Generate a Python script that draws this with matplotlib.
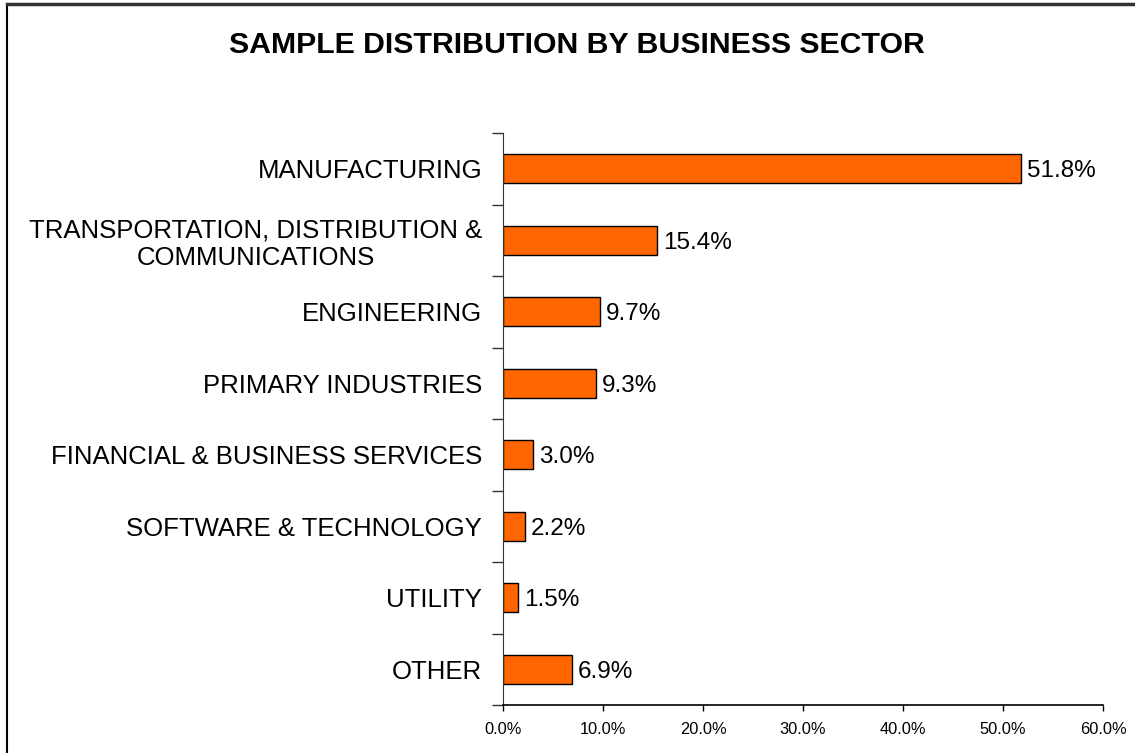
import numpy as np
import matplotlib.pyplot as plt
from matplotlib.lines import Line2D
from matplotlib.ticker import FixedLocator, FuncFormatter

plt.rcParams['font.family'] = ['Liberation Sans', 'DejaVu Sans']

sectors = ["MANUFACTURING",
           "TRANSPORTATION, DISTRIBUTION &\nCOMMUNICATIONS",
           "ENGINEERING",
           "PRIMARY INDUSTRIES",
           "FINANCIAL & BUSINESS SERVICES",
           "SOFTWARE & TECHNOLOGY",
           "UTILITY",
           "OTHER"]
share = [51.8, 15.4, 9.7, 9.3, 3.0, 2.2, 1.5, 6.9]
x_ticks = [0, 10, 20, 30, 40, 50, 60]

fig = plt.figure(figsize=(11.35, 7.53), dpi=100)
ax = fig.add_axes([503 / 1135, 1 - 705 / 753, 600 / 1135, 572 / 753])

y = np.arange(len(sectors))
ax.barh(y, share, height=0.4, color='#ff6600', edgecolor='black', linewidth=1.0)
for yi, v in zip(y, share):
    ax.text(v + 0.6, yi, f"{v:.1f}%", va='center_baseline', ha='left', fontsize=17.5)

ax.set_ylim(len(sectors) - 0.5, -0.5)
ax.set_xlim(0, 60)
ax.set_xticks(x_ticks)
ax.xaxis.set_major_formatter(FuncFormatter(lambda v, p: f"{v:.1f}%"))
ax.tick_params(axis='x', labelsize=11.8, length=4, width=1, pad=8, colors='black')

# category labels sit at bar centres, tick marks go between categories
ax.set_yticks(y)
ax.set_yticklabels(sectors, fontsize=18.5, ha='right', multialignment='center',
                   linespacing=1.15)
ax.tick_params(axis='y', which='major', length=0, pad=15)
ax.yaxis.set_minor_locator(FixedLocator(np.arange(-0.5, len(sectors) + 0.5, 1)))
ax.tick_params(axis='y', which='minor', length=8, width=1, color='#333333')

for s in ['top', 'right']:
    ax.spines[s].set_visible(False)
ax.spines['left'].set_color('#333333')
ax.spines['bottom'].set_linewidth(1.2)

fig.text(0.5 * (228 + 925) / 1135, 1 - 45 / 753, "SAMPLE DISTRIBUTION BY BUSINESS SECTOR",
         ha='center', va='center', fontsize=21.8, fontweight='bold')

# outer frame on top and left edges
fig.add_artist(Line2D([7 / 1135, 7 / 1135], [0, 1 - 4 / 753], color='black', lw=1.5))
fig.add_artist(Line2D([7 / 1135, 1], [1 - 4 / 753, 1 - 4 / 753], color='#333333', lw=2.5))

fig.savefig('out.png', dpi=100)
